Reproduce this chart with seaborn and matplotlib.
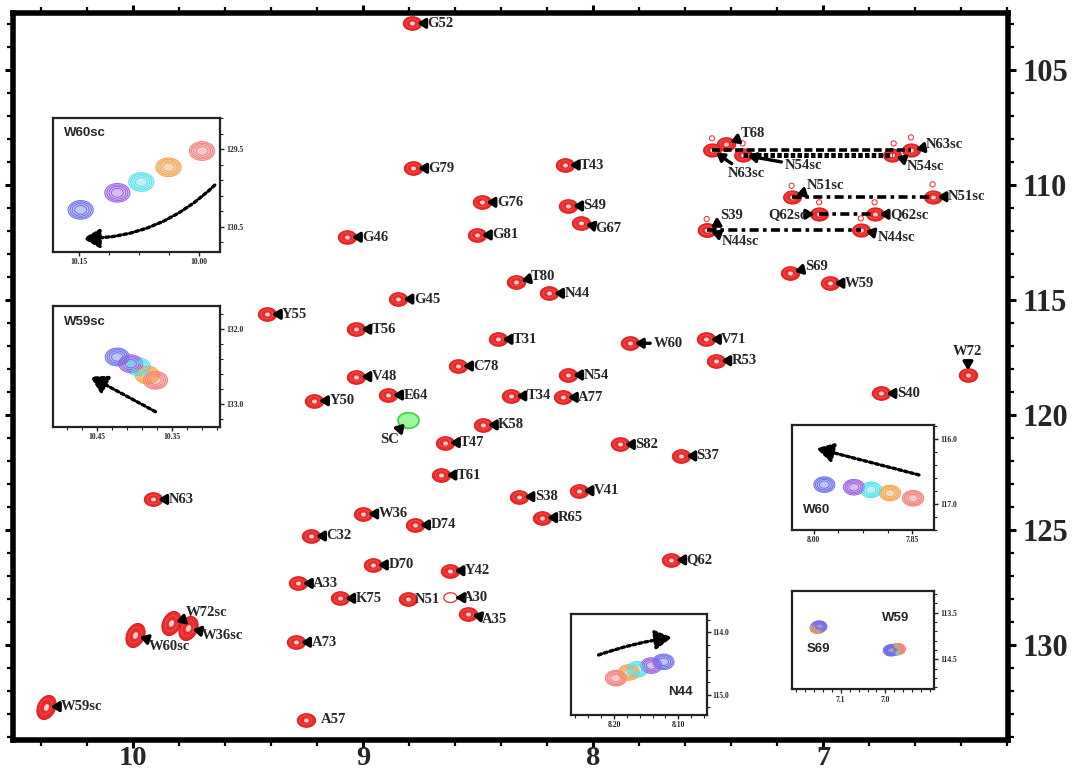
import numpy as np
import pandas as pd
import matplotlib
matplotlib.use("Agg")
import matplotlib.pyplot as plt
import seaborn as sns
from matplotlib.path import Path
from matplotlib.markers import MarkerStyle
from matplotlib.ticker import MultipleLocator, FormatStrFormatter

# ------------------------------------------------------------------ data
# backbone amide peaks: label, 1H ppm, 15N ppm
bb_labels = ["G52", "G79", "G76", "G81", "G46", "T80", "G45", "Y55", "T56", "T31",
             "C78", "V48", "Y50", "E64", "T34", "K58", "T47", "T61", "S38", "N63",
             "W36", "D74", "C32", "D70", "Y42", "A33", "K75", "N51", "A35", "A73",
             "A57", "T43", "S49", "G67", "N44", "T68", "S39", "S69", "W59", "W60",
             "V71", "R53", "N54", "W72", "A77", "S40", "S82", "S37", "V41", "R65", "Q62"]
bb_h = [8.786, 8.782, 8.485, 8.505, 9.070, 8.333, 8.846, 9.418, 9.029, 8.415,
        8.587, 9.029, 9.213, 8.891, 8.355, 8.479, 8.644, 8.659, 8.320, 9.912,
        8.999, 8.774, 9.226, 8.957, 8.624, 9.283, 9.099, 8.804, 8.545, 9.291,
        9.249, 8.123, 8.108, 8.053, 8.191, 7.423, 7.506, 7.145, 6.972, 7.840,
        7.509, 7.464, 8.108, 6.370, 8.131, 6.746, 7.883, 7.616, 8.063, 8.221, 7.660]
bb_n = [102.97, 109.27, 110.75, 112.17, 112.27, 114.20, 114.96, 115.62, 116.27, 116.71,
        117.87, 118.33, 119.38, 119.13, 119.17, 120.43, 121.20, 122.61, 123.55, 123.67,
        124.30, 124.78, 125.26, 126.52, 126.77, 127.32, 127.97, 128.00, 128.65, 129.88,
        133.26, 109.13, 110.91, 111.67, 114.71, 108.22, 111.96, 113.81, 114.27, 116.88,
        116.71, 117.64, 118.26, 118.26, 119.23, 119.06, 121.28, 121.78, 123.29, 124.46, 126.30]

# Asn/Gln side-chain NH2 pairs (two protons share one 15N)
sc_labels = ["N63sc", "N54sc", "N51sc", "Q62sc", "N44sc"]
sc_h_a = [7.483, 7.348, 7.137, 7.017, 7.506]
sc_h_b = [6.618, 6.701, 6.524, 6.776, 6.836]
sc_n = [108.48, 108.70, 110.51, 111.27, 111.96]

# small weak satellite peaks above the NH2 peaks
sat_h = [7.483, 7.350, 6.693, 6.618, 7.137, 6.524, 7.017, 6.776, 7.506, 6.836]
sat_n = [107.97, 108.19, 108.19, 107.93, 110.03, 109.97, 110.75, 110.75, 111.48, 111.45]

# Trp indole side-chain peaks
trp_labels = ["W72sc", "W36sc", "W60sc", "W59sc"]
trp_h = [9.833, 9.762, 9.991, 10.379]
trp_n = [129.06, 129.28, 129.57, 132.68]

# weak peak and green side-chain peak
weak_label, weak_h, weak_n = "A30", 8.620, 127.94
green_label, green_h, green_n = "SC", 8.804, 120.22

# titration series shown in insets (first = red ... last = blue)
conditions = ["c1", "c2", "c3", "c4", "c5"]
w60sc_h = [9.996, 10.038, 10.072, 10.102, 10.148]
w60sc_n = [129.52, 129.73, 129.92, 130.06, 130.28]
w59sc_h = [10.372, 10.383, 10.395, 10.405, 10.423]
w59sc_n = [132.68, 132.61, 132.50, 132.46, 132.37]
w60_h = [7.849, 7.884, 7.913, 7.939, 7.984]
w60_n = [116.91, 116.83, 116.78, 116.74, 116.70]
n44_h = [8.197, 8.177, 8.164, 8.142, 8.123]
n44_n = [114.73, 114.64, 114.59, 114.53, 114.47]
s69_h = [7.152, 7.151, 7.150, 7.149, 7.148]
s69_n = [113.83, 113.82, 113.81, 113.80, 113.80]
w59_h = [6.972, 6.976, 6.980, 6.984, 6.988]
w59_n = [114.28, 114.29, 114.30, 114.30, 114.31]

x_ticks = [10, 9, 8, 7]
y_ticks = [105, 110, 115, 120, 125, 130]

# ------------------------------------------------------------------ style
sns.set_theme(style="ticks")
plt.rcParams["font.family"] = ["Liberation Serif", "DejaVu Serif"]
plt.rcParams["font.weight"] = "bold"

PEAK_RED = "#ea2b2b"
palette = dict(zip(conditions, ["#f27a7a", "#f4a24c", "#55e2ec", "#9d5fe0", "#6c70ea"]))


def ellipse_marker(w, h, angle=0.0):
    t = np.linspace(0, 2 * np.pi, 60)
    xs, ys = w * np.cos(t), h * np.sin(t)
    a = np.deg2rad(angle)
    xr = xs * np.cos(a) - ys * np.sin(a)
    yr = xs * np.sin(a) + ys * np.cos(a)
    verts = np.column_stack([xr, yr])
    verts = np.vstack([verts, verts[:1]])
    codes = [Path.MOVETO] + [Path.LINETO] * (len(verts) - 2) + [Path.CLOSEPOLY]
    return MarkerStyle(Path(verts, codes))


ELL = ellipse_marker(1.35, 1.0)
TILT = ellipse_marker(0.7, 1.0, -25)

fig = plt.figure(figsize=(10.73, 7.73), dpi=100)
W, H = 1073, 773
ax = fig.add_axes([13 / W, (H - 740) / H, 995 / W, 727 / H])


def red_peaks(ax, df, marker, s):
    sns.scatterplot(data=df, x="h", y="n", marker=marker, s=s, color=PEAK_RED,
                    edgecolor="#d81c1c", linewidth=0.7, legend=False, ax=ax, zorder=3)
    sns.scatterplot(data=df, x="h", y="n", marker=marker, s=s * 0.42, facecolor="none",
                    edgecolor="#f45656", linewidth=0.5, legend=False, ax=ax, zorder=3.1)
    sns.scatterplot(data=df, x="h", y="n", marker=marker, s=s * 0.07, color="#ffd2d2",
                    edgecolor="#ffd2d2", linewidth=0.2, legend=False, ax=ax, zorder=3.2)


bb = pd.DataFrame({"label": bb_labels, "h": bb_h, "n": bb_n})
sc = pd.DataFrame({"h": sc_h_a + sc_h_b, "n": sc_n + sc_n})
trp = pd.DataFrame({"label": trp_labels, "h": trp_h, "n": trp_n})
red_peaks(ax, bb, ELL, 175)
red_peaks(ax, sc, ELL, 165)
red_peaks(ax, trp, TILT, 300)

sns.scatterplot(x=sat_h, y=sat_n, marker="o", s=14, facecolor="none", edgecolor=PEAK_RED,
                linewidth=0.7, legend=False, ax=ax, zorder=3)
sns.scatterplot(x=[weak_h], y=[weak_n], marker=ELL, s=90, facecolor="none",
                edgecolor=PEAK_RED, linewidth=0.9, legend=False, ax=ax, zorder=3)
sns.scatterplot(x=[green_h], y=[green_n], marker=ELL, s=230, color="#9ef59e",
                edgecolor="#3ed23e", linewidth=1.2, legend=False, ax=ax, zorder=3)

# dashed connectors between NH2 pairs
dash_styles = [(0, (2.2, 1.0)), (0, (0.9, 0.45)), (0, (2.5, 1.2, 1.0, 1.2)),
               (0, (2.5, 1.2, 1.0, 1.2)), (0, (2.5, 1.2, 1.0, 1.2))]
dash_lw = [2.6, 3.6, 2.6, 2.6, 2.6]
for ha_, hb_, n_, ls, lw in zip(sc_h_a, sc_h_b, sc_n, dash_styles, dash_lw):
    ax.plot([ha_, hb_], [n_, n_], color="black", lw=lw, ls=ls, zorder=4,
            solid_capstyle="butt", dash_capstyle="butt")

# ------------------------------------------------------------------ labels
ARROW = dict(arrowstyle="-|>,head_length=0.45,head_width=0.28", lw=2.4, color="black",
             shrinkA=0, shrinkB=3.5, mutation_scale=10)
LFONT = dict(fontsize=10.5, fontweight="bold", family=["Liberation Serif", "DejaVu Serif"])

special = {
    "T68": (11, 7.7, "left", True), "S39": (10, 10.8, "left", True),
    "G67": (10.5, -3.9, "left", True), "T80": (10.5, 4, "left", True),
    "S69": (11, 4.5, "left", True), "W72": (0, 16.8, "center", True),
    "A35": (10.5, -4, "left", True), "A57": (11, 0, "left", False),
    "N51": (5, 0, "left", False), "W60": (17, 0, "left", True),
    "W72sc": (10.5, 8, "left", True), "W36sc": (10, -5, "left", True),
    "W60sc": (9.5, -8, "left", True), "W59sc": (11, 0, "left", True),
}
sc_a_off = {"N63sc": (11, -16.8, "left"), "N54sc": (30, -7.7, "left"), "N51sc": (11, 7.9, "left"),
            "Q62sc": (-9, 0, "right"), "N44sc": (11, -8.4, "left")}
sc_b_off = {"N63sc": (11, 4.3, "left"), "N54sc": (11, -8.4, "left"), "N51sc": (11, 0, "left"),
            "Q62sc": (11, 0, "left"), "N44sc": (12, -5.3, "left")}


def put_label(text, x, y, dx, dy, ha, arrow=True):
    ax.annotate(text, xy=(x, y), xytext=(dx, dy), textcoords="offset points", ha=ha,
                va="center", arrowprops=ARROW if arrow else None, zorder=6, **LFONT)


for lab, x, y in zip(bb_labels + trp_labels, bb_h + trp_h, bb_n + trp_n):
    dx, dy, ha, arr = special.get(lab, (11, 0, "left", True))
    put_label(lab, x, y, dx, dy, ha, arr)
for lab, xa, xb, y in zip(sc_labels, sc_h_a, sc_h_b, sc_n):
    dx, dy, ha = sc_a_off[lab]
    put_label(lab, xa, y, dx, dy, ha)
    dx, dy, ha = sc_b_off[lab]
    put_label(lab, xb, y, dx, dy, ha)
put_label(weak_label, weak_h, weak_n, 9, 0, "left")
put_label(green_label, green_h, green_n, -13, -14, "center")

# ------------------------------------------------------------------ main axes
ax.set_xlim(10.522, 6.196)
ax.set_ylim(134.13, 102.52)
ax.set_xlabel("")
ax.set_ylabel("")
ax.set_xticks(x_ticks)
ax.set_yticks(y_ticks)
ax.xaxis.set_minor_locator(MultipleLocator(0.2))
ax.yaxis.set_minor_locator(MultipleLocator(1))
for sp in ax.spines.values():
    sp.set_linewidth(4)
    sp.set_color("black")
ax.tick_params(axis="both", which="both", direction="out", color="black",
               top=True, bottom=True, left=True, right=True,
               labelleft=False, labelright=True, labeltop=False, labelbottom=True)
ax.tick_params(which="major", length=5.5, width=2.2)
ax.tick_params(which="minor", length=4.0, width=1.6)
ax.tick_params(axis="y", which="major", labelsize=22, pad=5)
ax.tick_params(axis="x", which="major", labelsize=20.5, pad=-1.5)
for t in ax.get_xticklabels() + ax.get_yticklabels():
    t.set_fontweight("bold")
    t.set_family(["Liberation Serif", "DejaVu Serif"])

# ------------------------------------------------------------------ insets


def inset(box_px, xlim, ylim, xt, yt, fmtx, fmty):
    l, t, r, b = box_px
    a = fig.add_axes([l / W, 1 - b / H, (r - l) / W, (b - t) / H])
    a.set_xlim(*xlim)
    a.set_ylim(*ylim)
    a.set_xticks(xt)
    a.set_yticks(yt)
    a.xaxis.set_major_formatter(FormatStrFormatter(fmtx))
    a.yaxis.set_major_formatter(FormatStrFormatter(fmty))
    a.minorticks_on()
    for sp in a.spines.values():
        sp.set_linewidth(1.6)
        sp.set_color("#222222")
    a.tick_params(axis="both", which="both", direction="out", top=False, left=False,
                  bottom=True, right=True, labelleft=False, labelright=True,
                  labelsize=5.5, pad=1.5, color="#222222")
    a.tick_params(which="major", length=3, width=1)
    a.tick_params(which="minor", length=1.8, width=0.8)
    for tl in a.get_xticklabels() + a.get_yticklabels():
        tl.set_fontweight("bold")
    a.set_facecolor("white")
    return a


def series(a, h, n, marker, s):
    df = pd.DataFrame({"h": h, "n": n, "cond": conditions})
    sns.scatterplot(data=df, x="h", y="n", hue="cond", palette=palette, marker=marker, s=s,
                    alpha=0.4, linewidth=0, legend=False, ax=a, zorder=2)
    for frac in (1.0, 0.7, 0.45, 0.22):
        sns.scatterplot(data=df, x="h", y="n", hue="cond", palette=palette, marker=marker,
                        s=s * frac, facecolor="none", linewidth=0.7, legend=False, ax=a, zorder=3)
        coll = a.collections[-1]
        coll.set_facecolor("none")
        coll.set_edgecolor([palette[c] for c in conditions])
    a.set_xlabel("")
    a.set_ylabel("")


def dotted_arrow(a, start, end, rad=0.0, ms=18):
    a.annotate("", xy=end, xytext=start,
               arrowprops=dict(arrowstyle="-|>,head_length=0.55,head_width=0.32",
                               lw=2.4, ls=(0, (0.9, 0.9)), color="black", mutation_scale=ms,
                               shrinkA=0, shrinkB=0, connectionstyle=f"arc3,rad={rad}"))


IFONT = dict(fontsize=9.5, fontweight="bold", family=["Liberation Sans", "DejaVu Sans"])

a1 = inset((52.7, 117.7, 220.4, 251.7), (10.183, 9.973), (130.82, 129.09),
           [10.15, 10.00], [129.5, 130.5], "%.2f", "%.1f")
series(a1, w60sc_h, w60sc_n, ELL, 330)
dotted_arrow(a1, (9.98, 129.96), (10.145, 130.65), rad=-0.2)
a1.text(0.07, 0.86, "W60sc", transform=a1.transAxes, **IFONT)

a2 = inset((52.7, 306.0, 220.0, 426.7), (10.509, 10.286), (133.30, 131.69),
           [10.45, 10.35], [132.0, 133.0], "%.2f", "%.1f")
series(a2, w59sc_h, w59sc_n, ELL, 300)
dotted_arrow(a2, (10.372, 133.10), (10.459, 132.63))
a2.text(0.07, 0.84, "W59sc", transform=a2.transAxes, **IFONT)

a3 = inset((792.1, 425.0, 934.1, 530.0), (8.033, 7.817), (117.40, 115.78),
           [8.00, 7.85], [116.0, 117.0], "%.2f", "%.1f")
series(a3, w60_h, w60_n, ELL, 230)
dotted_arrow(a3, (7.84, 116.55), (7.996, 116.14))
a3.text(0.08, 0.16, "W60", transform=a3.transAxes, **IFONT)

a4 = inset((570.9, 614.3, 706.6, 715.0), (8.267, 8.056), (115.32, 113.71),
           [8.20, 8.10], [114.0, 115.0], "%.2f", "%.1f")
series(a4, n44_h, n44_n, ELL, 230)
dotted_arrow(a4, (8.224, 114.36), (8.110, 114.08), rad=-0.05)
a4.text(0.72, 0.2, "N44", transform=a4.transAxes, **IFONT)

a5 = inset((792.1, 591.0, 934.1, 689.3), (7.209, 6.891), (115.14, 113.04),
           [7.1, 7.0], [113.5, 114.5], "%.1f", "%.1f")
series(a5, s69_h, s69_n, ELL, 120)
series(a5, w59_h, w59_n, ELL, 120)
a5.text(0.10, 0.38, "S69", transform=a5.transAxes, **IFONT)
a5.text(0.63, 0.69, "W59", transform=a5.transAxes, **IFONT)

fig.savefig("out.png", dpi=100)
